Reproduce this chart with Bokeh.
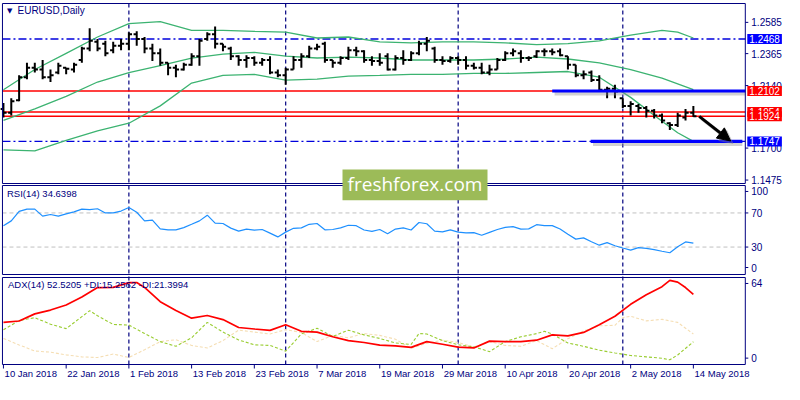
import numpy as np
from bokeh.plotting import figure
from bokeh.models import (Range1d, Label, BoxAnnotation, Arrow, NormalHead,
                          ColumnDataSource)
from bokeh.embed import file_html
from bokeh.resources import INLINE

# ---------------- data ----------------
chart_title = "EURUSD,Daily"
tick_labels = ["10 Jan 2018", "22 Jan 2018", "1 Feb 2018", "13 Feb 2018", "23 Feb 2018",
               "7 Mar 2018", "19 Mar 2018", "29 Mar 2018", "10 Apr 2018", "20 Apr 2018",
               "2 May 2018", "14 May 2018"]
tick_bars = [0, 8, 16, 24, 32, 40, 48, 56, 64, 72, 80, 88]
month_starts = [16, 36, 58, 79]

high = [1.2017, 1.2051, 1.2212, 1.2300, 1.2300, 1.2320, 1.2253, 1.2300, 1.2266, 1.2300,
        1.2414, 1.2543, 1.2468, 1.2455, 1.2448, 1.2468, 1.2516, 1.2522, 1.2482, 1.2435,
        1.2401, 1.2300, 1.2286, 1.2300, 1.2367, 1.2468, 1.2516, 1.2556, 1.2435, 1.2414,
        1.2354, 1.2354, 1.2347, 1.2334, 1.2347, 1.2253, 1.2266, 1.2347, 1.2367, 1.2421,
        1.2435, 1.2448, 1.2320, 1.2347, 1.2414, 1.2414, 1.2388, 1.2347, 1.2367, 1.2367,
        1.2354, 1.2388, 1.2381, 1.2455, 1.2482, 1.2414, 1.2347, 1.2347, 1.2347, 1.2347,
        1.2300, 1.2300, 1.2286, 1.2334, 1.2381, 1.2401, 1.2388, 1.2347, 1.2388, 1.2401,
        1.2401, 1.2401, 1.2347, 1.2286, 1.2246, 1.2246, 1.2212, 1.2131, 1.2145, 1.2051,
        1.2030, 1.2010, 1.1997, 1.1976, 1.1943, 1.1882, 1.1949, 1.1976, 1.1997]
low = [1.1916, 1.1929, 1.2030, 1.2185, 1.2232, 1.2185, 1.2165, 1.2219, 1.2219, 1.2232,
       1.2300, 1.2381, 1.2381, 1.2347, 1.2367, 1.2388, 1.2388, 1.2421, 1.2367, 1.2313,
       1.2280, 1.2212, 1.2199, 1.2246, 1.2280, 1.2280, 1.2455, 1.2401, 1.2381, 1.2320,
       1.2280, 1.2266, 1.2280, 1.2280, 1.2219, 1.2199, 1.2145, 1.2253, 1.2266, 1.2334,
       1.2388, 1.2300, 1.2266, 1.2286, 1.2320, 1.2347, 1.2300, 1.2280, 1.2280, 1.2246,
       1.2246, 1.2286, 1.2313, 1.2354, 1.2381, 1.2300, 1.2286, 1.2300, 1.2286, 1.2253,
       1.2253, 1.2219, 1.2212, 1.2253, 1.2313, 1.2347, 1.2300, 1.2313, 1.2334, 1.2347,
       1.2354, 1.2347, 1.2253, 1.2199, 1.2185, 1.2165, 1.2098, 1.2051, 1.2051, 1.1983,
       1.1929, 1.1949, 1.1916, 1.1909, 1.1875, 1.1828, 1.1848, 1.1895, 1.1920]
open_ = [1.1976, 1.1949, 1.2037, 1.2199, 1.2266, 1.2253, 1.2199, 1.2232, 1.2266, 1.2253,
         1.2320, 1.2401, 1.2448, 1.2435, 1.2388, 1.2421, 1.2435, 1.2502, 1.2468, 1.2401,
         1.2367, 1.2300, 1.2266, 1.2253, 1.2286, 1.2347, 1.2468, 1.2502, 1.2435, 1.2401,
         1.2347, 1.2320, 1.2334, 1.2300, 1.2320, 1.2232, 1.2212, 1.2253, 1.2320, 1.2347,
         1.2401, 1.2435, 1.2320, 1.2300, 1.2334, 1.2388, 1.2381, 1.2320, 1.2313, 1.2347,
         1.2253, 1.2334, 1.2320, 1.2367, 1.2435, 1.2401, 1.2320, 1.2313, 1.2334, 1.2320,
         1.2280, 1.2266, 1.2232, 1.2253, 1.2320, 1.2367, 1.2367, 1.2334, 1.2347, 1.2381,
         1.2381, 1.2381, 1.2347, 1.2286, 1.2212, 1.2232, 1.2179, 1.2111, 1.2118, 1.2051,
         1.1997, 1.1997, 1.1983, 1.1963, 1.1929, 1.1875, 1.1862, 1.1916, 1.1949]
close = [1.1949, 1.2030, 1.2199, 1.2266, 1.2253, 1.2199, 1.2212, 1.2280, 1.2259, 1.2286,
         1.2401, 1.2455, 1.2401, 1.2367, 1.2421, 1.2435, 1.2502, 1.2468, 1.2401, 1.2367,
         1.2300, 1.2266, 1.2253, 1.2286, 1.2347, 1.2455, 1.2502, 1.2435, 1.2414, 1.2347,
         1.2320, 1.2334, 1.2300, 1.2320, 1.2232, 1.2212, 1.2253, 1.2320, 1.2347, 1.2401,
         1.2414, 1.2320, 1.2300, 1.2334, 1.2388, 1.2381, 1.2320, 1.2313, 1.2300, 1.2253,
         1.2334, 1.2320, 1.2367, 1.2435, 1.2455, 1.2320, 1.2313, 1.2334, 1.2320, 1.2280,
         1.2266, 1.2232, 1.2253, 1.2320, 1.2367, 1.2381, 1.2334, 1.2334, 1.2381, 1.2381,
         1.2374, 1.2354, 1.2286, 1.2212, 1.2219, 1.2179, 1.2111, 1.2118, 1.2098, 1.1997,
         1.2010, 1.1983, 1.1963, 1.1929, 1.1895, 1.1862, 1.1929, 1.1949, 1.1924]

bb_idx = [0, 4, 8, 12, 16, 20, 24, 28, 32, 36, 40, 44, 48, 52, 56, 60, 64, 68, 72, 76, 80, 84, 86, 88]
bb_upper = [1.2111, 1.2253, 1.2367, 1.2482, 1.2576, 1.2590, 1.2529, 1.2529, 1.2522, 1.2516,
            1.2475, 1.2482, 1.2448, 1.2441, 1.2448, 1.2448, 1.2441, 1.2428, 1.2435, 1.2455,
            1.2495, 1.2529, 1.2516, 1.2475]
bb_mid = [1.1895, 1.1976, 1.2064, 1.2165, 1.2232, 1.2280, 1.2334, 1.2361, 1.2374, 1.2347,
          1.2334, 1.2340, 1.2334, 1.2320, 1.2320, 1.2320, 1.2327, 1.2340, 1.2327, 1.2300,
          1.2253, 1.2192, 1.2152, 1.2111]
bb_lower = [1.1687, 1.1680, 1.1754, 1.1821, 1.1875, 1.1997, 1.2158, 1.2212, 1.2219, 1.2179,
            1.2185, 1.2206, 1.2212, 1.2219, 1.2219, 1.2226, 1.2226, 1.2232, 1.2239, 1.2199,
            1.2057, 1.1889, 1.1808, 1.1747]

rsi = [55.1, 60.7, 71.9, 74.5, 74.5, 66.3, 68.2, 66.3, 68.9, 71.3,
       74.5, 73.8, 74.9, 70.0, 70.0, 72.2, 76.4, 70.8, 60.7, 61.5,
       51.3, 50.2, 50.2, 52.8, 56.7, 60.7, 67.4, 58.1, 57.6, 52.2,
       48.7, 51.1, 49.8, 50.6, 46.3, 41.9, 47.5, 52.0, 52.5, 56.7,
       57.6, 50.2, 50.6, 52.5, 55.6, 55.1, 50.0, 48.3, 50.6, 45.7,
       51.1, 52.5, 50.0, 58.8, 57.3, 48.7, 47.8, 50.2, 47.5, 46.6,
       46.9, 43.8, 47.2, 50.6, 53.0, 53.9, 51.1, 51.3, 56.2, 55.1,
       55.1, 51.1, 44.9, 39.3, 40.8, 36.3, 32.2, 35.2, 31.5, 28.9,
       26.4, 29.4, 28.4, 27.0, 25.1, 23.3, 30.3, 36.0, 34.6398]
rsi_levels = [30, 70]
rsi_tick_labels = ["100", "70", "30", "0"]

adx_idx = [0, 2, 4, 6, 8, 10, 12, 14, 16, 17, 18, 20, 22, 24, 26, 28, 30, 32, 34, 36, 38, 40,
           42, 44, 46, 48, 50, 52, 54, 56, 58, 60, 62, 64, 66, 68, 70, 72, 74, 76, 78, 80,
           82, 84, 85, 86, 87, 88]
adx = [30.5, 31.6, 37.2, 40.2, 44.2, 50.4, 57.9, 58.0, 61.8, 61.8, 58.0, 46.8, 39.8, 33.8,
       35.9, 32.7, 26.5, 25.3, 24.2, 28.7, 23.5, 22.9, 19.2, 16.2, 14.7, 12.6, 12.0, 10.9,
       15.4, 13.3, 11.1, 10.4, 15.8, 15.4, 15.4, 16.5, 20.7, 19.9, 22.6, 28.6, 35.3, 44.7,
       52.3, 58.6, 63.5, 62.2, 57.9, 52.5205]
pdi_idx = [0, 2, 4, 6, 8, 10, 11, 12, 14, 16, 18, 20, 22, 24, 26, 28, 30, 32, 34, 36, 38,
           40, 42, 44, 46, 48, 50, 52, 53, 54, 56, 58, 60, 62, 64, 66, 68, 69, 70, 72, 74,
           76, 78, 80, 82, 84, 85, 86, 88]
pdi = [24.7, 32.0, 34.2, 29.1, 25.6, 35.0, 39.7, 35.7, 28.9, 28.4, 21.8, 15.4, 11.7, 18.4,
       30.5, 22.9, 16.7, 12.9, 12.4, 7.9, 21.4, 25.9, 19.5, 24.4, 20.7, 17.9, 14.3, 13.2,
       21.7, 21.4, 16.2, 12.9, 11.3, 7.5, 15.4, 19.2, 21.7, 23.5, 21.4, 14.3, 11.7, 8.6,
       6.5, 4.5, 3.4, 2.3, 1.1, 4.9, 15.2562]
ndi_idx = [0, 2, 4, 6, 8, 10, 12, 14, 16, 18, 20, 22, 24, 26, 28, 30, 32, 34, 36, 38, 40,
           42, 44, 46, 48, 50, 52, 54, 56, 58, 60, 62, 64, 66, 68, 70, 72, 74, 76, 78, 79,
           80, 82, 84, 86, 88]
ndi = [17.9, 12.8, 8.0, 7.1, 5.0, 3.4, 2.9, 5.6, 2.9, 9.0, 15.4, 16.9, 12.4, 10.4, 16.2,
       24.4, 22.9, 21.4, 24.8, 22.6, 15.4, 20.3, 18.4, 21.7, 20.3, 17.3, 10.2, 14.1, 16.5,
       14.7, 11.1, 15.4, 12.4, 11.7, 16.2, 9.8, 17.7, 23.8, 27.8, 28.2, 34.2, 35.3, 31.7,
       32.9, 30.5, 21.3994]
adx_tick_labels = ["64", "0"]

level_dashdot = [1.2468, 1.1747]
level_red = [1.2102, 1.1954, 1.1924]
price_ticks = [1.2585, 1.2365, 1.2140, 1.1700, 1.1475]
price_tags = [(1.2468, "#0000ff"), (1.2102, "#ff0000"), (1.1954, "#ff0000"),
              (1.1924, "#ff0000"), (1.1747, "#0000ff")]
trend_blue = [(1.2102, 70.0, 94.62), (1.1747, 74.9, 94.25)]
forecast_arrow = (88.75, 1.1923, 92.75, 1.1750)
watermark = "freshforex.com"

# ---------------- layout (canvas px, y downward) ----------------
NAVY = "#000080"
FONT = "Liberation Sans"
W, H = 784, 384
BAR_PX = 7.84                       # px per bar
X0_PX = 2.94                        # px position of bar 0
PANEL_L, PANEL_R = 1.96, 744.8      # panel frame left/right (px)
MAIN_T, MAIN_B = 3.0, 183.0
RSI_T, RSI_B = 185.0, 274.0
ADX_T, ADX_B = 277.0, 364.0
DATE_Y = 372.5

P_HI, P_LO = 1.27178, 1.14507       # price span of main panel
R_HI, R_LO = 102.2, -2.2            # RSI span of RSI panel
A_HI, A_LO = 65.8, -2.6             # ADX span of ADX panel


def span_range(v_hi, v_lo, top, bottom):
    per = (v_hi - v_lo) / (bottom - top)
    return Range1d(v_lo - (H - bottom) * per, v_hi + top * per), per


def px_to_bar(px):
    return (px - X0_PX) / BAR_PX


xr = Range1d(px_to_bar(0), px_to_bar(W))
price_rng, ppx = span_range(P_HI, P_LO, MAIN_T, MAIN_B)
rsi_rng, rpx = span_range(R_HI, R_LO, RSI_T, RSI_B)
adx_rng, apx = span_range(A_HI, A_LO, ADX_T, ADX_B)
BL, BR = px_to_bar(PANEL_L), px_to_bar(PANEL_R)

p = figure(width=W, height=H, x_range=xr, y_range=price_rng, output_backend="svg",
           toolbar_location=None, x_axis_location=None, y_axis_location=None,
           min_border=0)
p.extra_y_ranges = {"rsi": rsi_rng, "adx": adx_rng}
p.grid.visible = False
p.outline_line_color = None
p.background_fill_color = "white"
p.border_fill_color = "white"


def sy(y_px):
    return H - y_px          # canvas px (down) -> screen units (up from bottom)


def label(x, y, text, size="10px", color=NAVY, align="left", font=FONT, **kw):
    p.add_layout(Label(x=x, y=y, text=text, text_color=color, text_font=font,
                       text_font_size=size, text_baseline="middle", text_align=align,
                       level="overlay", **kw))


# month separators through all three panels
top_price = P_HI
bottom_price = P_HI - (ADX_B - MAIN_T) * ppx
p.segment(x0=month_starts, x1=month_starts, y0=[top_price] * len(month_starts),
          y1=[bottom_price] * len(month_starts), line_color=NAVY, line_dash="4 3",
          line_width=1.2)

# ---------- price panel ----------
for lv in level_dashdot:
    p.line([BL, BR], [lv, lv], line_color="#0000dd", line_dash="8 3 2 3", line_width=1.3)
for lv in level_red:
    p.line([BL, BR], [lv, lv], line_color="#ff0000", line_width=1.5)

bb_src = ColumnDataSource(dict(x=bb_idx, up=bb_upper, mid=bb_mid, lo=bb_lower))
for col in ("up", "mid", "lo"):
    p.line("x", col, source=bb_src, line_color="#3cb371", line_width=1.3)

idx = np.arange(len(high))
bars = ColumnDataSource(dict(x=idx, h=high, l=low, o=open_, c=close,
                             xl=idx - 0.4, xr=idx + 0.4))
p.segment(x0="x", y0="l", x1="x", y1="h", source=bars, line_color="black", line_width=2)
p.segment(x0="xl", y0="o", x1="x", y1="o", source=bars, line_color="black", line_width=2)
p.segment(x0="x", y0="c", x1="xr", y1="c", source=bars, line_color="black", line_width=2)

for lv, x0, x1 in trend_blue:
    p.line([x0 + 0.3, x1], [lv - 2.5 * ppx, lv - 2.5 * ppx], line_color="#8c8c8c",
           line_alpha=0.4, line_width=4)
    p.line([x0, x1], [lv, lv], line_color="#0000ff", line_width=3.2)

xa, ya, xb, yb = forecast_arrow
p.add_layout(Arrow(end=NormalHead(size=13, fill_color="#808080", line_color="#808080",
                                  fill_alpha=0.35, line_alpha=0.35),
                   x_start=xa + 0.3, y_start=ya - 2.5 * ppx, x_end=xb + 0.3,
                   y_end=yb - 2.5 * ppx, line_color="#808080", line_alpha=0.35,
                   line_width=3))
p.add_layout(Arrow(end=NormalHead(size=13, fill_color="black", line_color="black"),
                   x_start=xa, y_start=ya, x_end=xb, y_end=yb,
                   line_color="black", line_width=3))

# ---------- RSI panel ----------
for lv in rsi_levels:
    p.line([BL, BR], [lv, lv], y_range_name="rsi", line_color="#c0c0c0",
           line_dash="4 3", line_width=1)
p.line(idx, rsi, y_range_name="rsi", line_color="#1e90ff", line_width=1.2)

# ---------- ADX panel ----------
p.line(ndi_idx, ndi, y_range_name="adx", line_color="#f5deb3", line_width=1.1,
       line_dash="3 2")
p.line(pdi_idx, pdi, y_range_name="adx", line_color="#9acd32", line_width=1.1,
       line_dash="3 2")
p.line(adx_idx, adx, y_range_name="adx", line_color="#ff0000", line_width=1.7)

# ---------- panel frames ----------
for t, b in ((MAIN_T, MAIN_B), (RSI_T, RSI_B), (ADX_T, ADX_B)):
    p.add_layout(BoxAnnotation(left=PANEL_L, right=PANEL_R, top=sy(t), bottom=sy(b),
                               left_units="screen", right_units="screen",
                               top_units="screen", bottom_units="screen",
                               fill_color=None, line_color=NAVY, line_alpha=1.0,
                               line_width=1, level="overlay"))

# ---------- right scales ----------
tick_len = 3.0 / BAR_PX
p.segment(x0=[BR] * len(price_ticks), x1=[BR + tick_len] * len(price_ticks),
          y0=price_ticks, y1=price_ticks, line_color=NAVY, line_width=1)
for v in price_ticks:
    label(PANEL_R + 6, v, f"{v:.4f}", y_units="data", x_units="screen")

rsi_tick_pos = [95.2, 70, 30, 6.0]
p.segment(x0=[BR] * 4, x1=[BR + tick_len] * 4, y0=rsi_tick_pos, y1=rsi_tick_pos,
          y_range_name="rsi", line_color=NAVY, line_width=1)
for v, lab in zip(rsi_tick_pos, rsi_tick_labels):
    label(PANEL_R + 6, v, lab, y_units="data", x_units="screen", y_range_name="rsi")

adx_tick_pos = [61.1, 2.4]
p.segment(x0=[BR] * 2, x1=[BR + tick_len] * 2, y0=adx_tick_pos, y1=adx_tick_pos,
          y_range_name="adx", line_color=NAVY, line_width=1)
for v, lab in zip(adx_tick_pos, adx_tick_labels):
    label(PANEL_R + 6, v, lab, y_units="data", x_units="screen", y_range_name="adx")

for lv, colr in price_tags:
    label(PANEL_R + 2, lv, f"{lv:.4f}", color="white", y_units="data", x_units="screen",
          background_fill_color=colr, padding=(2, 1))

# ---------- date scale ----------
p.segment(x0=tick_bars, x1=tick_bars, y0=[A_LO] * len(tick_bars),
          y1=[A_LO - 4 * apx] * len(tick_bars), y_range_name="adx",
          line_color=NAVY, line_width=1)
for t, lab in zip(tick_bars, tick_labels):
    label(t + 0.15, sy(DATE_Y), lab, size="9.5px", x_units="data", y_units="screen")

# ---------- legends ----------
label(6.5, sy(10.1), "\u25bc", size="7px", font="DejaVu Sans",
      x_units="screen", y_units="screen")
label(17.0, sy(10.1), chart_title, x_units="screen", y_units="screen")
label(6.5, sy(192.7), f"RSI(14) {rsi[-1]:.4f}", size="9.5px",
      x_units="screen", y_units="screen")
label(7.5, sy(284.2),
      f"ADX(14) {adx[-1]:.4f} +DI:{pdi[-1]:.4f} -DI:{ndi[-1]:.4f}", size="9.5px",
      x_units="screen", y_units="screen")

# ---------- watermark ----------
p.add_layout(BoxAnnotation(left=342, right=487, top=sy(169.0), bottom=sy(199.7),
                           left_units="screen", right_units="screen",
                           top_units="screen", bottom_units="screen",
                           fill_color="#9cbb58", fill_alpha=1.0, line_color=None,
                           level="overlay"))
label(414.5, sy(183.8), watermark, size="19px", color="white", align="center",
      font="Open Sans", x_units="screen", y_units="screen")

open("out.html", "w").write(file_html(p, INLINE))
